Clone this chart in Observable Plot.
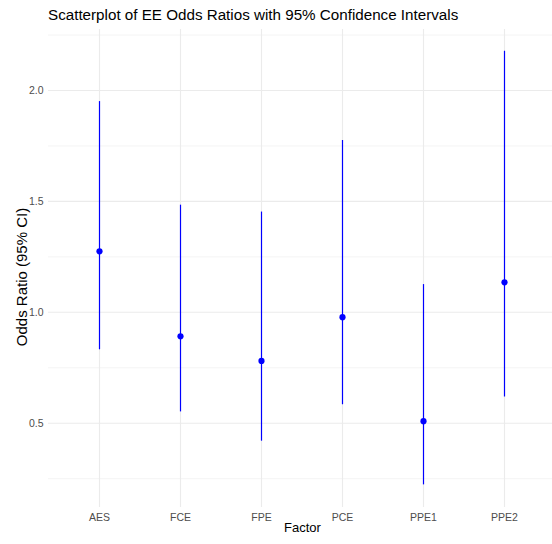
<!DOCTYPE html>
<html>
<head>
<meta charset="utf-8">
<script src="https://cdn.jsdelivr.net/npm/d3@7"></script>
<script src="https://cdn.jsdelivr.net/npm/@observablehq/plot@0.6"></script>
<style>
  html, body { margin: 0; padding: 0; background: #fff; }
  #wrap { width: 552px; height: 544px; position: relative; font-family: "Liberation Sans", Arial, sans-serif; }
  #title { height: 29px; box-sizing: border-box; padding: 5.8px 0 0 48px; font-size: 15.2px; line-height: 17px; color: #000; white-space: nowrap; }
  #ytitle { position: absolute; left: 21.2px; top: 277px; transform: translate(-50%, -50%) rotate(-90deg); font-size: 15px; line-height: 15px; white-space: nowrap; color: #000; }
</style>
</head>
<body>
<div id="wrap">
  <div id="title"></div>
  <div id="chart"></div>
  <div id="ytitle"></div>
</div>
<script>
const factors = ["AES", "FCE", "FPE", "PCE", "PPE1", "PPE2"];
const oddsRatio = [1.275, 0.892, 0.781, 0.978, 0.509, 1.135];
const lowerCI = [0.831, 0.551, 0.419, 0.583, 0.222, 0.618];
const upperCI = [1.950, 1.483, 1.452, 1.775, 1.125, 2.177];
const majorTicks = [0.5, 1.0, 1.5, 2.0];
const minorTicks = [0.25, 0.75, 1.25, 1.75, 2.25];
const chartTitle = "Scatterplot of EE Odds Ratios with 95% Confidence Intervals";
const xTitle = "Factor";
const yTitle = "Odds Ratio (95% CI)";

document.getElementById("title").textContent = chartTitle;
document.getElementById("ytitle").textContent = yTitle;

const data = factors.map((f, i) => ({factor: f, or: oddsRatio[i], lo: lowerCI[i], hi: upperCI[i]}));

const grid = "#EBEBEB";
const chart = Plot.plot({
  width: 552,
  height: 515,
  marginTop: 0,
  marginBottom: 37,
  marginLeft: 48,
  marginRight: 0,
  style: {fontFamily: "'Liberation Sans', Arial, sans-serif", background: "#fff"},
  x: {type: "point", domain: factors, range: [97.3, 506], padding: 0},
  y: {domain: [0.12, 2.275]},
  marks: [
    Plot.gridY(minorTicks, {stroke: grid, strokeOpacity: 1, strokeWidth: 0.55}),
    Plot.gridY(majorTicks, {stroke: grid, strokeOpacity: 1, strokeWidth: 1.1}),
    Plot.gridX(factors, {stroke: grid, strokeOpacity: 1, strokeWidth: 1.1}),
    Plot.axisY(majorTicks, {tickSize: 0, tickPadding: 5, fontSize: 10.5, fill: "#4D4D4D", label: null, tickFormat: d3.format(".1f")}),
    Plot.axisX(factors, {tickSize: 0, tickPadding: 6.5, fontSize: 10.5, fill: "#4D4D4D", label: null}),
    Plot.ruleX(data, {x: "factor", y1: "lo", y2: "hi", stroke: "#0000FF", strokeWidth: 1.2}),
    Plot.dot(data, {x: "factor", y: "or", r: 3.1, fill: "#0000FF", stroke: null}),
    Plot.text([xTitle], {text: d => d, frameAnchor: "bottom", dx: 2, dy: 24.8, fontSize: 13, fill: "#000"})
  ]
});
document.getElementById("chart").appendChild(chart);
</script>
</body>
</html>
